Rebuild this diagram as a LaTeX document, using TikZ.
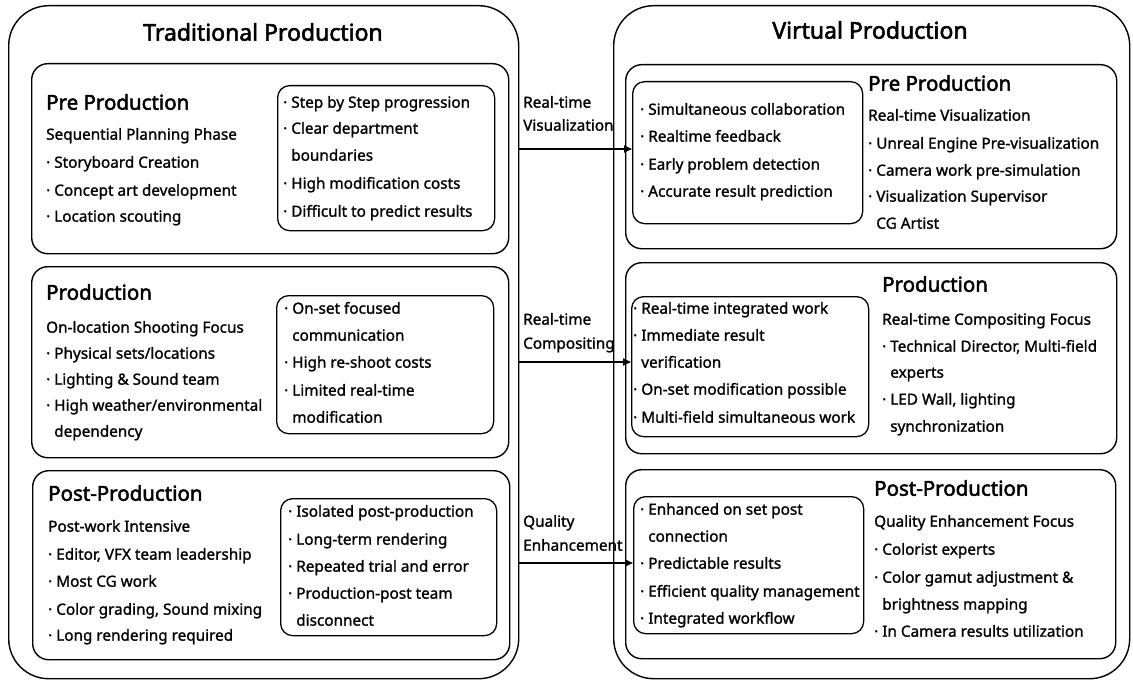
\documentclass[tikz,border=0pt]{standalone}
\usepackage{fontspec}
\setmainfont{Noto Sans}[FakeBold=1.3]
\newfontfamily\headfont{Noto Sans}[FakeBold=2.4]
\usetikzlibrary{arrows.meta}
\newcommand\ind{\phantom{· }}
\begin{document}
\begin{tikzpicture}[x=1pt,y=-1pt,
 outer/.style={draw, line width=1.4pt, rounded corners=40pt, anchor=north west, inner sep=0},
 panel/.style={draw, line width=1.4pt, rounded corners=16pt, anchor=north west, inner sep=0},
 inbox/.style={draw, line width=1.3pt, rounded corners=12pt, anchor=north west, inner sep=0},
 txt/.style={anchor=mid west, inner sep=0, font=\fontsize{15.3}{18}\selectfont},
 head/.style={anchor=mid west, inner sep=0, font=\headfont\fontsize{20.5}{22}\selectfont},
 ttl/.style={anchor=center, inner sep=0, font=\headfont\fontsize{23}{25}\selectfont},
 arr/.style={line width=1.8pt, -{Triangle[length=8pt,width=7pt]}}]
\useasboundingbox (0,0) rectangle (1133,682);
% outer boxes
\node[outer, minimum width=510pt, minimum height=673pt] (lout) at (8,5) {};
\node[outer, minimum width=516pt, minimum height=673pt] (rout) at (613,5) {};
\node[ttl] (ltitle) at (263,32) {Traditional Production};
\node[ttl] (rtitle) at (870,30) {Virtual Production};
% left panels
\node[panel, minimum width=477pt, minimum height=190pt] (lp1) at (31,63) {};
\node[panel, minimum width=477pt, minimum height=191pt] (lp2) at (31,266) {};
\node[panel, minimum width=477pt, minimum height=189pt] (lp3) at (32,470) {};
\node[inbox, minimum width=217pt, minimum height=145pt] (li1) at (277,85) {};
\node[inbox, minimum width=217pt, minimum height=138pt] (li2) at (276,295) {};
\node[inbox, minimum width=216pt, minimum height=137pt] (li3) at (280,498) {};
% right panels
\node[panel, minimum width=491pt, minimum height=184pt] (rp1) at (625,64) {};
\node[panel, minimum width=491pt, minimum height=191pt] (rp2) at (625,262) {};
\node[panel, minimum width=490pt, minimum height=189pt] (rp3) at (625,469) {};
\node[inbox, minimum width=230pt, minimum height=142pt] (ri1) at (632,81) {};
\node[inbox, minimum width=237pt, minimum height=140pt] (ri2) at (631,296) {};
\node[inbox, minimum width=230pt, minimum height=137pt] (ri3) at (633,496) {};
% arrows
\coordinate (s1) at (lout.east |- 0,149);
\coordinate (s2) at (lout.east |- 0,362);
\coordinate (s3) at (lout.east |- 0,563);
\draw[arr] (s1) -- (s1 -| ri1.west);
\draw[arr] (s2) -- (s2 -| ri2.west);
\draw[arr] (s3) -- (s3 -| ri3.west);
\node[txt] (al1a) at (523,105) {Real-time};
\node[txt] (al1b) at (523,128) {Visualization};
\node[txt] (al2a) at (523,322) {Real-time};
\node[txt] (al2b) at (523,346) {Compositing};
\node[txt] (al3a) at (523,524) {Quality};
\node[txt] (al3b) at (523,548) {Enhancement};
% left pre
\node[head] (h1) at (46,107) {Pre Production};
\foreach \yy/\tt [count=\i] in {137/{Sequential Planning Phase},165/{· Storyboard Creation},193/{· Concept art development},219/{· Location scouting}}
  \node[txt] (a\i) at (46,\yy) {\tt};
\foreach \yy/\tt [count=\i] in {105/{· Step by Step progression},131/{· Clear department},158/{\ind boundaries},186/{· High modification costs},214/{· Difficult to predict results}}
  \node[txt] (b\i) at (283,\yy) {\tt};
% left production
\node[head] (h2) at (46,297) {Production};
\foreach \yy/\tt [count=\i] in {330/{On-location Shooting Focus},356/{· Physical sets/locations},382/{· Lighting \& Sound team},408/{· High weather/environmental},434/{\ind dependency}}
  \node[txt] (c\i) at (46,\yy) {\tt};
\foreach \yy/\tt [count=\i] in {311/{· On-set focused},338/{\ind communication},365/{· High re-shoot costs},393/{· Limited real-time},420/{\ind modification}}
  \node[txt] (d\i) at (284,\yy) {\tt};
% left post
\node[head] (h3) at (48,498) {Post-Production};
\foreach \yy/\tt [count=\i] in {529/{Post-work Intensive},557/{· Editor, VFX team leadership},584/{· Most CG work},612/{· Color grading, Sound mixing},638/{· Long rendering required}}
  \node[txt] (e\i) at (48,\yy) {\tt};
\foreach \yy/\tt [count=\i] in {514/{· Isolated post-production},542/{· Long-term rendering},569/{· Repeated trial and error},596/{· Production-post team},623/{\ind disconnect}}
  \node[txt] (f\i) at (288,\yy) {\tt};
% right pre
\foreach \yy/\tt [count=\i] in {112/{· Simultaneous collaboration},139/{· Realtime feedback},167/{· Early problem detection},194/{· Accurate result prediction}}
  \node[txt] (g\i) at (640,\yy) {\tt};
\node[head] (h4) at (868,88) {Pre Production};
\foreach \yy/\tt [count=\i] in {118/{Real-time Visualization},146/{· Unreal Engine Pre-visualization},173/{· Camera work pre-simulation},199/{· Visualization Supervisor},226/{\ind CG Artist}}
  \node[txt] (k\i) at (868,\yy) {\tt};
% right production
\foreach \yy/\tt [count=\i] in {311/{· Real-time integrated work},338/{· Immediate result},365/{\ind verification},392/{· On-set modification possible},420/{· Multi-field simultaneous work}}
  \node[txt] (m\i) at (633,\yy) {\tt};
\node[head] (h5) at (882,289) {Production};
\foreach \yy/\tt [count=\i] in {322/{Real-time Compositing Focus},349/{· Technical Director, Multi-field},375/{\ind experts},402/{· LED Wall, lighting},429/{\ind synchronization}}
  \node[txt] (n\i) at (882,\yy) {\tt};
% right post
\foreach \yy/\tt [count=\i] in {512/{· Enhanced on set post},539/{\ind connection},566/{· Predictable results},594/{· Efficient quality management},621/{· Integrated workflow}}
  \node[txt] (p\i) at (640,\yy) {\tt};
\node[head] (h6) at (874,493) {Post-Production};
\foreach \yy/\tt [count=\i] in {524/{Quality Enhancement Focus},552/{· Colorist experts},580/{· Color gamut adjustment \&},607/{\ind brightness mapping},634/{· In Camera results utilization}}
  \node[txt] (q\i) at (874,\yy) {\tt};
\end{tikzpicture}
\end{document}
